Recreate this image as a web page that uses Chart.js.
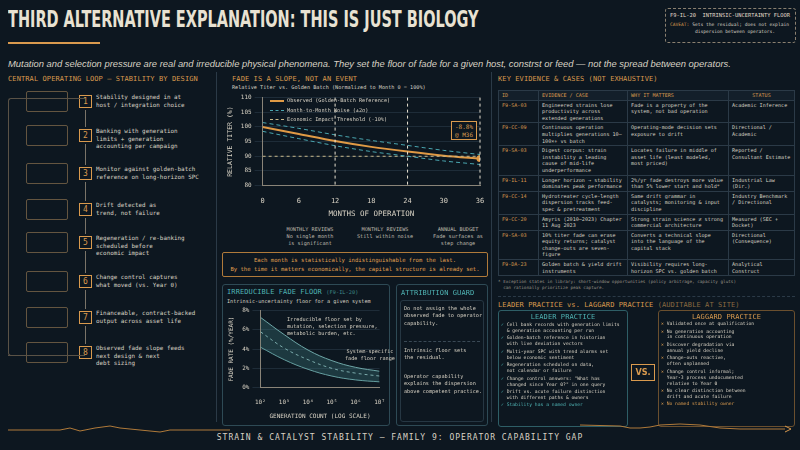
<!DOCTYPE html>
<html><head><meta charset="utf-8">
<script src="https://cdn.jsdelivr.net/npm/chart.js@4/dist/chart.umd.min.js"></script>
<style>
*{box-sizing:border-box;margin:0;padding:0}
body{width:800px;height:450px;background:#0d1720;color:#d8d2c4;font-family:"DejaVu Sans Mono",monospace;position:relative;overflow:hidden}
.a{position:absolute}
.h{color:#d99a4e;font-size:7px;letter-spacing:.1px}
.t{font-size:5.9px;line-height:7.6px;color:#d8d2c4}
.s{font-size:5.2px;line-height:6.8px;color:#bfb9ad}
.num{width:13px;height:13px;border:1px solid #d99a4e;color:#d99a4e;font-size:8px;text-align:center;line-height:11px}
table{border-collapse:collapse}
td,th{border:1px solid #2b3a47;font-size:5.1px;line-height:6.6px;padding:1px 3px;vertical-align:top;text-align:left;font-weight:normal}
th{color:#d99a4e;background:#131f2a}
td.id{color:#d99a4e}
.box{border:1px solid #2e4a55;border-radius:3px}
</style></head><body>
<div class="a" style="left:8px;top:6px;font-family:'DejaVu Sans Condensed',sans-serif;font-weight:bold;font-size:23px;color:#e8e2d2;transform:scaleX(.7);transform-origin:left;white-space:nowrap">THIRD ALTERNATIVE EXPLANATION: THIS IS JUST BIOLOGY</div>
<div class="a" style="left:8px;top:42px;width:92px;height:2px;background:#d99a4e"></div>
<div class="a" style="left:665px;top:8px;width:131px;height:35px;border:1px dashed #8a8070;border-radius:3px;padding:3px 4px" >
<div style="font-size:5.4px;color:#e0dacb;white-space:nowrap">F9-IL-20 &nbsp;INTRINSIC-UNCERTAINTY FLOOR</div>
<div style="font-size:4.6px;color:#d8d2c4;line-height:7px;margin-top:3px;white-space:nowrap"><span style="color:#d99a4e">CAVEAT:</span> Sets the residual; does not explain<br>&nbsp;&nbsp;&nbsp;&nbsp;&nbsp;&nbsp;&nbsp;&nbsp;&nbsp;dispersion between operators.</div></div>
<div class="a" style="left:8px;top:58px;font-family:'Liberation Sans',sans-serif;font-style:italic;font-size:9.4px;color:#d8d2c4;white-space:nowrap">Mutation and selection pressure are real and irreducible physical phenomena. They set the floor of fade for a given host, constrst or feed — not the spread between operators.</div>

<div class="a h" style="left:8px;top:75px">CENTRAL OPERATING LOOP – STABILITY BY DESIGN</div>
<div class="a h" style="left:232px;top:75px">FADE IS A SLOPE, NOT AN EVENT</div>
<div class="a h" style="left:498px;top:75px">KEY EVIDENCE &amp; CASES (NOT EXHAUSTIVE)</div>
<div class="a" style="left:216px;top:72px;width:1px;height:350px;background:#2b3a47"></div>
<div class="a" style="left:491px;top:72px;width:1px;height:350px;background:#2b3a47"></div>

<div id="loop"></div>
<div class="a" style="left:8px;top:98px;width:77px;height:258px;border:1px solid #5a5246;border-right:none;border-radius:3px 0 0 3px"></div>
<div class="a" style="left:8px;top:355px;width:77px;height:1px;background:#5a5246"></div>

<div class="a" style="left:232px;top:84px;font-size:5.2px;color:#d8d2c4">Relative Titer vs. Golden Batch (Normalized to Month 0 = 100%)</div>
<div class="a" style="left:222px;top:91px;width:266px;height:132px"><canvas id="c1"></canvas></div>
<div class="a s" style="left:270px;top:96px;line-height:9.5px;color:#d8d2c4">
<div><span style="display:inline-block;width:14px;border-top:2px solid #e09a45;vertical-align:middle"></span> Observed (Golden-Batch Reference)</div>
<div><span style="display:inline-block;width:14px;border-top:1.5px dashed #4aa6b0;vertical-align:middle"></span> Month-to-Month Noise (±2σ)</div>
<div><span style="display:inline-block;width:14px;border-top:1.5px dashed #c9b98a;vertical-align:middle"></span> Economic Impact Threshold (-10%)</div></div>
<div class="a" style="left:451px;top:121px;width:26px;height:19px;border:1px solid #d99a4e;color:#d99a4e;font-size:6px;text-align:center;line-height:8px;padding-top:1px;background:#0d1720">-8.8%<br>@ M36</div>
<div class="a s" style="left:275px;top:226px;width:70px;text-align:center">MONTHLY REVIEWS<br>No single month<br>is significant</div>
<div class="a s" style="left:350px;top:226px;width:70px;text-align:center">MONTHLY REVIEWS<br>Still within noise</div>
<div class="a s" style="left:425px;top:226px;width:66px;text-align:center">ANNUAL BUDGET<br>Fade surfaces as<br>step change</div>
<div class="a" style="left:222px;top:252px;width:266px;height:25px;border:1px solid #b07a3a;border-radius:2px;color:#e0a050;font-size:5.6px;line-height:8.5px;text-align:center;padding-top:3px;white-space:nowrap">Each month is statistically indistinguishable from the last.<br>By the time it matters economically, the capital structure is already set.</div>

<div class="a box" style="left:222px;top:284px;width:168px;height:142px"></div>
<div class="a h" style="left:227px;top:288px;color:#4fb3b3">IRREDUCIBLE FADE FLOOR <span style="font-size:5.2px;color:#3e8a8a">(F9-IL-20)</span></div>
<div class="a s" style="left:227px;top:298px;color:#d8d2c4">Intrinsic-uncertainty floor for a given system</div>
<div class="a" style="left:224px;top:304px;width:164px;height:120px"><canvas id="c2"></canvas></div>
<div class="a s" style="left:287px;top:316px;color:#d8d2c4">Irreducible floor set by<br>mutation, selection pressure,<br>metabolic burden, etc.</div>
<div class="a s" style="left:345px;top:348px;color:#d8d2c4;text-align:center">System-specific<br>fade floor range</div>

<div class="a box" style="left:396px;top:284px;width:92px;height:142px"></div>
<div class="a h" style="left:401px;top:289px;color:#4fb3b3">ATTRIBUTION GUARD</div>
<div class="a box" style="left:400px;top:300px;width:84px;height:122px;border-color:#263743"></div>
<div class="a s" style="left:404px;top:305px;color:#d8d2c4;line-height:7.4px">Do not assign the whole<br>observed fade to operator<br>capability.</div>
<div class="a" style="left:404px;top:341px;width:76px;border-top:1px dashed #3a4955"></div>
<div class="a s" style="left:404px;top:347px;color:#d8d2c4;line-height:7.4px">Intrinsic floor sets<br>the residual.</div>
<div class="a s" style="left:404px;top:373px;color:#d8d2c4;line-height:7.4px">Operator capability<br>explains the dispersion<br>above competent practice.</div>

<div class="a" style="left:498px;top:90px;width:297px">
<table style="width:297px"><colgroup><col style="width:40px"><col style="width:89px"><col style="width:101px"><col></colgroup>
<tr><th>ID</th><th>EVIDENCE / CASE</th><th>WHY IT MATTERS</th><th style="text-align:center">STATUS</th></tr>
<tbody id="tb"></tbody></table>
<div style="font-size:4.3px;color:#9a9488;line-height:5.5px;margin-top:3px">* Exception states in library: short-window opportunities (policy arbitrage, capacity gluts)<br>&nbsp;&nbsp;can rationally prioritize peak capture.</div></div>

<div class="a" style="left:498px;top:296px;width:297px;border-top:1px dashed #2b3a47"></div>
<div class="a h" style="left:498px;top:301px">LEADER PRACTICE vs. LAGGARD PRACTICE <span style="color:#8a6a40">(AUDITABLE AT SITE)</span></div>
<div class="a box" style="left:498px;top:310px;width:130px;height:117px;border-color:#2e5e66"></div>
<div class="a h" style="left:498px;top:313px;width:130px;text-align:center;color:#4fb3b3">LEADER PRACTICE</div>
<div class="a" id="lead" style="left:501px;top:322px;width:126px"></div>
<div class="a" style="left:631px;top:364px;width:24px;height:17px;border:1px solid #d99a4e;color:#d99a4e;font-size:9px;text-align:center;line-height:15px;font-family:'DejaVu Sans Condensed';font-weight:bold">VS.</div>
<div class="a box" style="left:658px;top:310px;width:137px;height:117px;border-color:#6a4f2e"></div>
<div class="a h" style="left:658px;top:313px;width:137px;text-align:center">LAGGARD PRACTICE</div>
<div class="a" id="lag" style="left:661px;top:321px;width:132px"></div>

<div class="a" style="left:0;top:433px;width:800px;text-align:center;font-size:8px;color:#d8d2c4;letter-spacing:1px">STRAIN &amp; CATALYST STABILITY – FAMILY 9: OPERATOR CAPABILITY GAP</div>
<svg class="a" style="left:0;top:420px" width="800" height="20"><polyline fill="none" stroke="#b07a3a" stroke-width="1" points="8,10 60,10 70,8 80,11 95,8 110,6 120,8 140,10 160,12 170,10 200,10 230,10"/><polyline fill="none" stroke="#b07a3a" stroke-width="1" points="580,5 620,6 630,8 640,8 650,7 660,5 680,4 700,5 720,8 740,9 785,9"/><path d="M785,6 L791,9 L785,12" fill="none" stroke="#d99a4e"/></svg>

<script>
// ---------- data ----------
const months=[0,6,12,18,24,30,36];
const observed=[100,97.6,95.2,93.2,91.6,90.2,89.2];
const noiseUpper=[101.5,99.5,97.3,95.4,93.7,92.0,90.6];
const noiseLower=[98.5,96.0,93.6,91.6,90.0,88.4,87.2];
const threshold=[90,90,90,90,90,90,90];
const reviewMonths=[12,24,36];
const generations=[1e2,1e3,1e4,1e5,1e6,1e7];
const floorUpper=[7.3,5.5,3.9,2.8,2.1,1.7];
const floorMid=[5.8,4.1,2.9,2.0,1.5,1.2];
const floorLower=[4.2,2.9,1.9,1.2,0.8,0.6];
const loopSteps=["Stability designed in at|host / integration choice","Banking with generation|limits + generation|accounting per campaign","Monitor against golden-batch|reference on long-horizon SPC","Drift detected as|trend, not failure","Regeneration / re-banking|scheduled before|economic impact","Change control captures|what moved (vs. Year 0)","Financeable, contract-backed|output across asset life","Observed fade slope feeds|next design & next|debt sizing"];
const loopY=[95,129,167,203,236,275,311,346];
const rows=[["F9-SA-03","Engineered strains lose productivity across extended generations","Fade is a property of the system, not bad operation","Academic Inference"],
["F9-CC-09","Continuous operation multiplies generations 10–100×+ vs batch","Operating-mode decision sets exposure to drift","Directional / Academic"],
["F9-SA-03","Digest corpus: strain instability a leading cause of mid-life underperformance","Locates failure in middle of asset life (least modeled, most priced)","Reported / Consultant Estimate"],
["F9-IL-11","Longer horizon → stability dominates peak performance","2%/yr fade destroys more value than 5% lower start and hold*","Industrial Law (Dir.)"],
["F9-CC-14","Hydrotreater cycle-length dispersion tracks feed-spec & pretreatment","Same drift grammar in catalysts; monitoring & input discipline","Industry Benchmark / Directional"],
["F9-CC-20","Amyris (2010–2023) Chapter 11 Aug 2023","Strong strain science ≠ strong commercial architecture","Measured (SEC + Docket)"],
["F9-SA-03","10% titer fade can erase equity returns; catalyst change-outs are seven-figure","Converts a technical slope into the language of the capital stack","Directional (Consequence)"],
["F9-DA-23","Golden batch & yield drift instruments","Visibility requires long-horizon SPC vs. golden batch","Analytical Construct"]];
const leader=["Cell bank records with generation limits|& generation accounting per run","Golden-batch reference in historian|with live deviation vectors","Multi-year SPC with trend alarms set|below economic sentiment","Regeneration scheduled on data,|not calendar or failure","Change control answers: \"What has|changed since Year 0?\" in one query","Drift vs. acute failure distinction|with different paths & owners","Stability has a named owner"];
const laggard=["Validated once at qualification","No generation accounting|in continuous operation","Discover degradation via|annual yield decline","Change-outs reactive,|often unplanned","Change control informal;|Year-3 process undocumented|relative to Year 0","No clear distinction between|drift and acute failure","No named stability owner"];

// ---------- build html ----------
let h='';
loopSteps.forEach((s,i)=>{
 h+=`<div class="a num" style="left:79px;top:${loopY[i]}px">${i+1}</div>`;
 h+=`<div class="a t" style="left:96px;top:${loopY[i]-1}px">${s.split('|').join('<br>')}</div>`;
 h+=`<div class="a" style="left:26px;top:${loopY[i]-4}px;width:42px;height:21px;border:1px solid #7a6548;border-radius:2px;opacity:.8"></div>`;
 if(i<7){h+=`<div class="a" style="left:85px;top:${loopY[i]+15}px;width:1px;height:${loopY[i+1]-loopY[i]-17}px;background:#7a7468"></div>`;}
});
document.getElementById('loop').innerHTML=h;
document.getElementById('tb').innerHTML=rows.map(r=>`<tr><td class="id">${r[0]}</td><td>${r[1]}</td><td>${r[2]}</td><td>${r[3]}</td></tr>`).join('');
const item=(s,i,col,mark)=>`<div style="font-size:4.7px;line-height:5.9px;margin-bottom:1.6px;white-space:nowrap;color:${i==6?col:'#d8d2c4'}"><span style="color:${col}">${mark}</span> ${s.split('|').join('<br>&nbsp;&nbsp;')}</div>`;
document.getElementById('lead').innerHTML=leader.map((s,i)=>item(s,i,'#4fb3b3','✓')).join('');
document.getElementById('lag').innerHTML=laggard.map((s,i)=>item(s,i,'#d99a4e','✕')).join('');

// ---------- charts ----------
Chart.defaults.font.family="DejaVu Sans Mono";
Chart.defaults.color="#d8d2c4";
Chart.defaults.animation=false;
const vlines={id:'vl',afterDatasetsDraw(c){const x=c.scales.x,y=c.scales.y,ctx=c.ctx;ctx.save();ctx.setLineDash([3,3]);ctx.strokeStyle='#e8e2d2';ctx.lineWidth=1;
 reviewMonths.forEach(m=>{const px=x.getPixelForValue(m);ctx.beginPath();ctx.moveTo(px,y.top);ctx.lineTo(px,y.bottom);ctx.stroke();});ctx.restore();}};
new Chart(document.getElementById('c1'),{type:'line',data:{labels:months,datasets:[
 {data:noiseUpper,borderColor:'#4aa6b0',borderDash:[4,3],borderWidth:1,pointRadius:0,tension:.3},
 {data:noiseLower,borderColor:'#4aa6b0',borderDash:[4,3],borderWidth:1,pointRadius:0,tension:.3},
 {data:threshold,borderColor:'#c9b98a',borderDash:[3,3],borderWidth:1,pointRadius:0},
 {data:observed,borderColor:'#e09a45',borderWidth:2,pointRadius:months.map(m=>m===36?2.5:0),pointBackgroundColor:'#e09a45',tension:.3}]},
 options:{responsive:true,maintainAspectRatio:false,plugins:{legend:{display:false},tooltip:{enabled:false}},layout:{padding:{right:8}},
 scales:{x:{type:'linear',min:0,max:36,ticks:{stepSize:6,font:{size:7}},grid:{display:false},border:{color:'#8a8478'},title:{display:true,text:'MONTHS OF OPERATION',font:{size:7.5},padding:{top:2}}},
 y:{min:80,max:110,ticks:{stepSize:5,font:{size:6}},grid:{color:'#1e2c38'},border:{color:'#8a8478'},title:{display:true,text:'RELATIVE TITER (%)',font:{size:6.5}}}}},plugins:[vlines]});
new Chart(document.getElementById('c2'),{type:'line',data:{datasets:[
 {data:generations.map((g,i)=>({x:g,y:floorUpper[i]})),borderColor:'#6fa8a8',borderWidth:1,pointRadius:0,tension:.4,fill:2,backgroundColor:'rgba(60,120,125,0.35)'},
 {data:generations.map((g,i)=>({x:g,y:floorMid[i]})),borderColor:'#9cc6c2',borderDash:[3,3],borderWidth:1,pointRadius:0,tension:.4},
 {data:generations.map((g,i)=>({x:g,y:floorLower[i]})),borderColor:'#6fa8a8',borderWidth:1,pointRadius:0,tension:.4}]},
 options:{responsive:true,maintainAspectRatio:false,plugins:{legend:{display:false},tooltip:{enabled:false}},layout:{padding:{right:6}},
 scales:{x:{type:'logarithmic',min:100,max:1e7,afterBuildTicks(s){s.ticks=generations.map(v=>({value:v}));},ticks:{font:{size:6},callback:v=>'10'+['²','³','⁴','⁵','⁶','⁷'][Math.round(Math.log10(v))-2]},grid:{display:false},border:{color:'#8a8478'},title:{display:true,text:'GENERATION COUNT (LOG SCALE)',font:{size:6}}},
 y:{min:0,max:8,ticks:{stepSize:2,font:{size:6},callback:v=>v+'%'},grid:{color:'#1e2c38'},border:{color:'#8a8478'},title:{display:true,text:'FADE RATE (%/YEAR)',font:{size:6}}}}}});
</script></body></html>
